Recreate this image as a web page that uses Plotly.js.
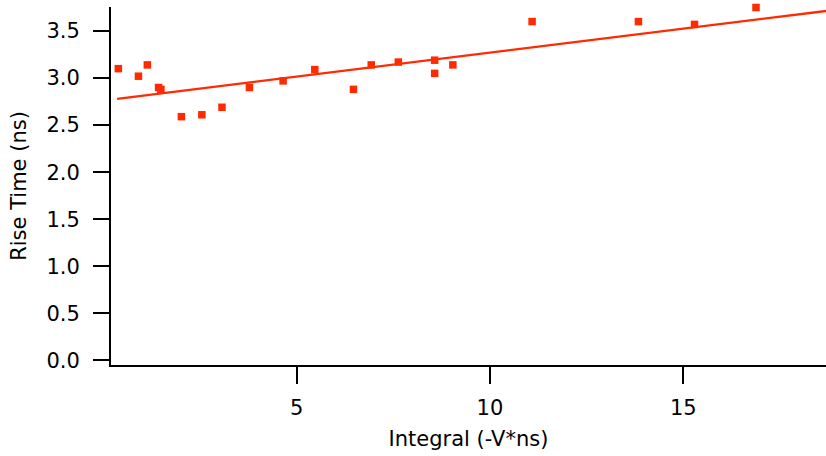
<!DOCTYPE html>
<html>
<head>
<meta charset="utf-8">
<script src="https://cdn.plot.ly/plotly-3.0.1.min.js"></script>
<style>html,body{margin:0;padding:0;background:#fff;}#chart{width:826px;height:456px;}</style>
</head>
<body>
<div id="chart"></div>
<script>
// Measured data points: Integral (-V*ns) vs Rise Time (ns)
const integral = [0.39, 0.91, 1.14, 1.43, 1.49, 2.02, 2.55, 3.07, 3.78, 4.65, 5.47, 6.47, 6.93, 7.63, 8.57, 8.57, 9.04, 11.09, 13.84, 15.29, 16.88];
const riseTime = [3.10, 3.02, 3.14, 2.90, 2.88, 2.59, 2.61, 2.69, 2.90, 2.97, 3.09, 2.88, 3.14, 3.17, 3.19, 3.05, 3.14, 3.60, 3.60, 3.57, 3.75];
// Linear fit line endpoints
const fitX = [0.36, 18.7];
const fitY = [2.78, 3.713];
const xTicks = [5, 10, 15];
const yTicks = [0.0, 0.5, 1.0, 1.5, 2.0, 2.5, 3.0, 3.5];

const red = '#ff2a00';
const font = {family: 'DejaVu Sans, Verdana, sans-serif', size: 21, color: '#000'};

const traces = [
  {x: fitX, y: fitY, mode: 'lines', line: {color: red, width: 2.3}, hoverinfo: 'skip', cliponaxis: false},
  {x: integral, y: riseTime, mode: 'markers', marker: {symbol: 'square', size: 7.5, color: red}, cliponaxis: false}
];

const layout = {
  width: 826, height: 456,
  margin: {l: 111, r: 0, t: 7, b: 91},
  paper_bgcolor: '#fff', plot_bgcolor: '#fff',
  showlegend: false,
  font: font,
  xaxis: {
    range: [0.2, 18.69],
    tickvals: xTicks, ticktext: xTicks.map(String),
    showgrid: false, zeroline: false,
    showline: true, linecolor: '#000', linewidth: 2,
    ticks: 'outside', ticklen: 17, tickwidth: 2, tickcolor: '#000',
    ticklabelstandoff: 6,
    tickfont: font,
    title: {text: 'Integral (-V*ns)', font: font, standoff: 12},
    automargin: false
  },
  yaxis: {
    range: [-0.048, 3.755],
    tickvals: yTicks, ticktext: yTicks.map(v => v.toFixed(1)),
    showgrid: false, zeroline: false,
    showline: true, linecolor: '#000', linewidth: 2,
    ticks: 'outside', ticklen: 16, tickwidth: 2, tickcolor: '#000',
    ticklabelstandoff: 9,
    tickfont: font,
    title: {text: 'Rise Time (ns)', font: font, standoff: 14},
    automargin: false
  }
};

Plotly.newPlot('chart', traces, layout, {staticPlot: true, displayModeBar: false});
</script>
</body>
</html>
